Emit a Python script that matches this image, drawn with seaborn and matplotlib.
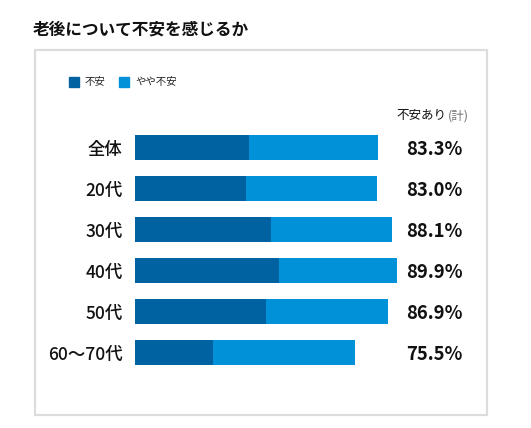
import matplotlib
matplotlib.use("Agg")
import matplotlib.pyplot as plt
import seaborn as sns
import pandas as pd
from matplotlib.patches import Rectangle

categories = ["全体", "20代", "30代", "40代", "50代", "60〜70代"]
anxious = [39.1, 38.1, 46.7, 49.4, 45.0, 26.8]
somewhat = [44.2, 44.9, 41.4, 40.5, 41.9, 48.7]
totals_label = ["83.3%", "83.0%", "88.1%", "89.9%", "86.9%", "75.5%"]
series_names = ["不安", "やや不安"]
title = "老後について不安を感じるか"

dark = "#0062A0"
light = "#0091D9"

sns.set_theme(style="white")
plt.rcParams["font.family"] = ["Noto Sans CJK JP", "DejaVu Sans"]

W, H = 531, 428
fig = plt.figure(figsize=(W / 100, H / 100), dpi=100)

df = pd.DataFrame({"cat": categories, "dark": anxious, "light": somewhat})
df["total"] = df["dark"] + df["light"]

ax = fig.add_axes([135 / W, (H - 373) / H, 291.4 / W, 246 / H])
sns.barplot(data=df, x="total", y="cat", color=light, width=0.61, ax=ax,
            saturation=1, orient="h", linewidth=0)
sns.barplot(data=df, x="dark", y="cat", color=dark, width=0.61, ax=ax,
            saturation=1, orient="h", linewidth=0)
ax.set_xlim(0, 100)
ax.set_ylim(5.5, -0.5)
ax.set_xlabel("")
ax.set_ylabel("")
ax.set_xticks([])
for s in ax.spines.values():
    s.set_visible(False)
ax.tick_params(axis="y", length=0, pad=9, labelsize=12.5)
for lab in ax.get_yticklabels():
    lab.set_fontweight("medium")
    lab.set_color("#111111")
ax.patch.set_alpha(0)

for i, t in enumerate(totals_label):
    ax.text(93.0, i + 0.04, t, ha="left", va="center", fontsize=13.3,
            fontweight="bold", color="#111111")

# frame
fig.patches.append(Rectangle((35 / W, (H - 415) / H), 452 / W, 365 / H,
                             transform=fig.transFigure, fill=False,
                             edgecolor="#dcdcdc", linewidth=1.6))

# title
fig.text(33 / W, 1 - 30 / H, title, ha="left", va="center", fontsize=12,
         fontweight="bold", color="#111111")

# legend
for x0, col, name, tx in [(69, dark, series_names[0], 85),
                          (119, light, series_names[1], 135)]:
    fig.patches.append(Rectangle((x0 / W, 1 - 87 / H), 10 / W, 10 / H,
                                 transform=fig.transFigure, color=col))
    fig.text(tx / W, 1 - 82 / H, name, ha="left", va="center", fontsize=7.5,
             color="#222222")

# header
fig.text(446 / W, 1 - 116 / H, "不安あり", ha="right", va="center",
         fontsize=9, color="#111111")
fig.text(469 / W, 1 - 116 / H, "(計)", ha="right", va="center",
         fontsize=9, color="#777777")

fig.savefig("out.png", dpi=100)
